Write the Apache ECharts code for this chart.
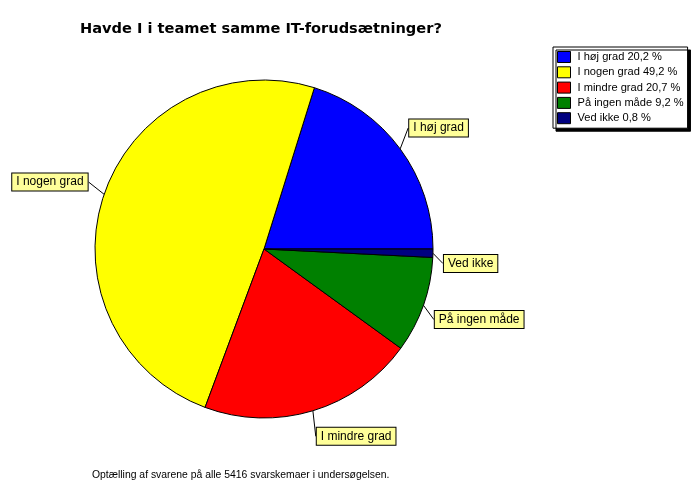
<!DOCTYPE html>
<html>
<head>
<meta charset="utf-8">
<script src="https://cdn.jsdelivr.net/npm/echarts@6/dist/echarts.min.js"></script>
<style>
  html, body { margin: 0; padding: 0; background: #fff; }
  #chart { width: 691px; height: 480px; }
</style>
</head>
<body>
<div id="chart"></div>
<script>
var categories = ['I høj grad', 'I nogen grad', 'I mindre grad', 'På ingen måde', 'Ved ikke'];
var shares = [20.2, 49.2, 20.7, 9.2, 0.8];
var colors = ['#0000ff', '#ffff00', '#ff0000', '#008000', '#000080'];
// nudges for the callout boxes, same order as categories
var labelOffsets = [[-3, -14], [-1, -8], [-3, 17], [-2, 12], [-3, 11]];

var font = 'Arial, "Liberation Sans", sans-serif';

var pieData = [];
for (var i = 0; i < categories.length; i++) {
    pieData.push({
        name: categories[i],
        value: shares[i],
        itemStyle: { color: colors[i] }
    });
}

var chart = echarts.init(document.getElementById('chart'));

chart.setOption({
    animation: false,
    title: [
        {
            text: 'Havde I i teamet samme IT-forudsætninger?',
            left: 75,
            top: 17,
            textStyle: { fontFamily: '"DejaVu Sans", sans-serif', fontSize: 14.6, fontWeight: 'bold', color: '#000' }
        },
        {
            text: 'Optælling af svarene på alle 5416 svarskemaer i undersøgelsen.',
            left: 92,
            top: 470,
            padding: 0,
            textStyle: { fontFamily: font, fontSize: 10.4, fontWeight: 'normal', color: '#000' }
        }
    ],
    legend: {
        orient: 'vertical',
        left: 553,
        top: 47,
        padding: [4, 4, 4, 4],
        itemGap: 3.3,
        itemWidth: 13,
        itemHeight: 11,
        backgroundColor: '#fff',
        borderColor: '#000',
        borderWidth: 1,
        borderRadius: 0,
        shadowColor: '#000',
        shadowBlur: 0,
        shadowOffsetX: 3,
        shadowOffsetY: 3,
        icon: 'rect',
        itemStyle: { borderColor: '#000', borderWidth: 1 },
        textStyle: { fontFamily: font, fontSize: 11.1, lineHeight: 12, color: '#000', padding: [0, 0, 0, 2] },
        formatter: function (name) {
            var idx = categories.indexOf(name);
            return name + ' ' + shares[idx].toFixed(1).replace('.', ',') + ' %';
        },
        data: categories
    },
    series: [{
        type: 'pie',
        center: [264, 249],
        radius: 169,
        startAngle: 0,
        clockwise: false,
        data: pieData,
        itemStyle: { borderColor: '#000', borderWidth: 1 },
        emphasis: { disabled: true },
        label: {
            show: true,
            position: 'outside',
            formatter: '{b}',
            fontFamily: font,
            fontSize: 12,
            lineHeight: 13,
            color: '#000',
            backgroundColor: '#ffff99',
            borderColor: '#000',
            borderWidth: 1,
            padding: [2, 4, 2, 4],
            bleedMargin: 0,
            overflow: 'none'
        },
        labelLine: {
            show: true,
            length: 10,
            length2: 0,
            lineStyle: { color: '#000', width: 1 }
        },
        labelLayout: function (params) {
            var off = labelOffsets[params.dataIndex];
            var r = params.labelRect;
            return {
                x: r.x + off[0],
                y: r.y + off[1],
                align: 'left',
                verticalAlign: 'top'
            };
        }
    }]
});
</script>
</body>
</html>
